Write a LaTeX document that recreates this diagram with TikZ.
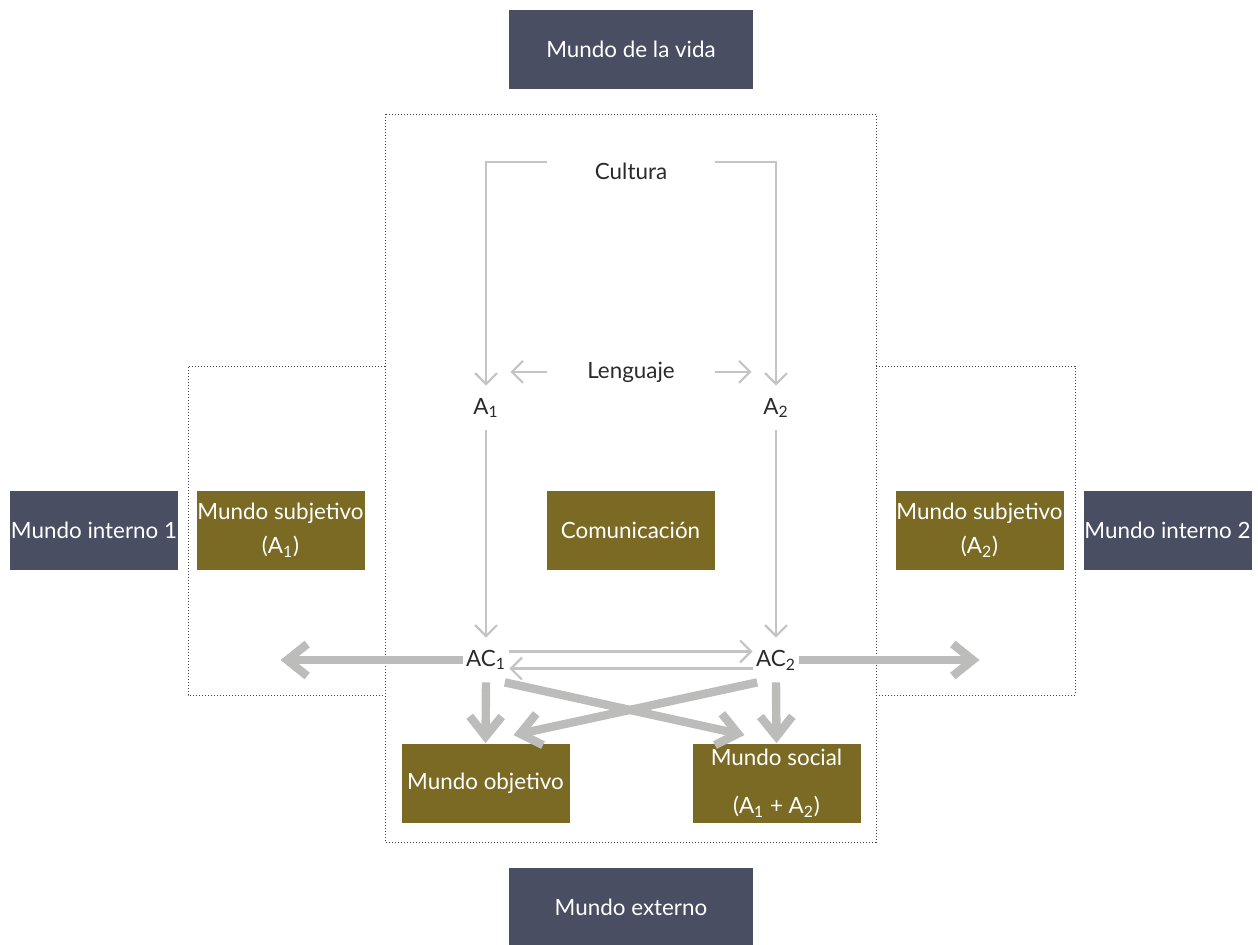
\documentclass[tikz,border=0pt]{standalone}
\usepackage{fontspec}
\setmainfont{Lato}
\usetikzlibrary{arrows.meta,positioning,calc}
\definecolor{pizarra}{HTML}{4A4E63}
\definecolor{oliva}{HTML}{7A6A24}
\definecolor{flecha}{HTML}{BCBDBA}
\definecolor{linea}{HTML}{C4C4C4}
\definecolor{texto}{HTML}{2A2A2A}
\tikzset{
	caja/.style={fill=#1,text=white,minimum width=84pt,minimum height=39.5pt,inner sep=0pt,align=center,font=\fontsize{11.2}{17}\selectfont},
	etiqueta/.style={text=texto,inner sep=0pt,font=\fontsize{11.2}{13}\selectfont},
	fina/.style={draw=linea,line width=1.1pt,-{Straight Barb[length=5.5pt,width=11pt]}},
	gruesa/.style={draw=flecha,line width=4.2pt,-{Straight Barb[length=10pt,width=16pt]}},
	punteado/.style={densely dotted,line width=0.5pt,draw=black!75}
}
\begin{document}
\begin{tikzpicture}[x=0.5pt,y=-0.5pt]
	\useasboundingbox (0,0) rectangle (1258,944);
	\draw[punteado] (385,114) rectangle (876,842);
	\draw[punteado] (385,366) -| (188,695) -- (385,695);
	\draw[punteado] (876,366) -| (1075,695) -- (876,695);
	\node[caja=pizarra,minimum width=122pt] (vida) at (631,49.5) {Mundo de la vida};
	\node[caja=pizarra,minimum width=122pt] (externo) at (631,907) {Mundo externo};
	\node[caja=pizarra] (interno1) at (94,530) {Mundo interno 1};
	\node[caja=pizarra] (interno2) at (1167.5,530) {Mundo interno 2};
	\node[caja=oliva] (subj1) at (280.5,530) {Mundo subjetivo\\(A\textsubscript{1})};
	\node[caja=oliva] (comunicacion) at (630.5,530) {Comunicación};
	\node[caja=oliva] (subj2) at (979.5,530) {Mundo subjetivo\\(A\textsubscript{2})};
	\node[caja=oliva] (objetivo) at (485.5,783) {Mundo objetivo};
	\node[caja=oliva,font=\fontsize{11.2}{24}\selectfont] (social) at (776.5,783) {Mundo social\\(A\textsubscript{1} + A\textsubscript{2})};
	\node[etiqueta,minimum width=83.5pt,anchor=base] (cultura) at (631,179) {Cultura};
	\node[etiqueta,minimum width=83.5pt,anchor=base] (lenguaje) at (631,378) {Lenguaje};
	\node[etiqueta,minimum width=24pt,minimum height=22pt] (a1) at (486,408) {A\textsubscript{1}};
	\node[etiqueta,minimum width=24pt,minimum height=22pt] (a2) at (776,408) {A\textsubscript{2}};
	\node[etiqueta,minimum width=23pt,minimum height=22pt] (ac1) at (486,660) {AC\textsubscript{1}};
	\node[etiqueta,minimum width=23pt,minimum height=22pt] (ac2) at (776,660) {AC\textsubscript{2}};
	\draw[fina] (cultura.north west) -| (a1.north);
	\draw[fina] (cultura.north east) -| (a2.north);
	\draw[fina] (lenguaje.west) -- (lenguaje.west -| a1.east);
	\draw[fina] (lenguaje.east) -- (lenguaje.east -| a2.west);
	\draw[fina] (a1.south) -- (ac1.north);
	\draw[fina] (a2.south) -- (ac2.north);
	\draw[fina] (ac1.20) -- (ac2.160);
	\draw[fina] (ac2.200) -- (ac1.-20);
	\draw[gruesa] (ac1.west) -- (ac1.west -| subj1.center);
	\draw[gruesa] (ac2.east) -- (ac2.east -| subj2.center);
	\draw[gruesa] (ac1.south) -- (objetivo.north);
	\draw[gruesa] (ac2.south) -- (social.north);
	\draw[gruesa] (ac1.-50) -- ($(social.north)+(-32,-8)$);
	\draw[gruesa] (ac2.-130) -- ($(objetivo.north)+(28,-8)$);
\end{tikzpicture}
\end{document}
